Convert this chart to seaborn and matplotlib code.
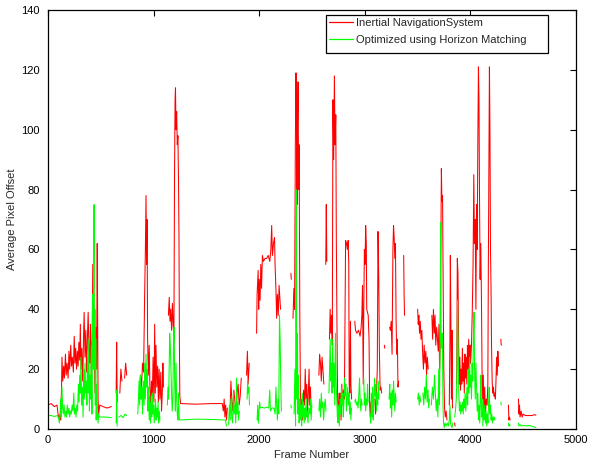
import numpy as np
import pandas as pd
import matplotlib
matplotlib.use('Agg')
import matplotlib.pyplot as plt
import seaborn as sns
from matplotlib.patches import Rectangle

# (frame, offset); None marks a gap in the trace
ins_points = [
    (0, 8), (30, 8.5), (60, 7.5), (85, 8), (95, 5), (105, 3.5), (115, 5), (120, 3), (128, 14), (132, 24),
    (140, 16), (148, 21), (155, 17), (165, 25), (172, 18), (180, 22), (190, 17), (198, 26), (205, 20),
    (215, 28), (222, 21), (230, 24), (240, 19), (248, 31), (255, 22), (262, 27), (270, 20), (278, 26),
    (285, 21), (292, 29), (300, 23), (306, 35), (312, 20), (320, 27), (328, 16), (336, 30), (342, 39),
    (350, 24), (358, 33), (365, 19), (372, 29), (380, 39), (388, 26), (395, 22), (402, 35), (410, 17),
    (418, 30), (424, 55), (430, 22), (438, 28), (445, 12), (452, 34), (460, 20), (466, 62), (470, 35),
    (474, 10), (480, 5), (490, 8), (520, 7.5), (560, 7), (600, 7.5), (605, None),
    (645, 12), (650, 29), (655, 9), (660, None),
    (680, 12), (690, 20), (700, 16), (710, None), (725, 17), (735, 22), (745, 18), (752, None),
    (865, 12), (875, 18), (885, 14), (895, 22), (905, 19), (915, 45), (922, 60), (928, 78), (933, 55),
    (938, 70), (943, 30), (950, 18), (958, 28), (965, 14), (972, 8), (980, 16), (988, 11), (995, 24),
    (1003, 9), (1010, 35), (1016, 12), (1022, 28), (1030, 14), (1038, 21), (1045, 9), (1052, 20),
    (1060, 10), (1068, 19), (1075, 6), (1082, 12), (1088, 22), (1093, 14), (1100, None),
    (1140, 38), (1148, 44), (1155, 36), (1162, 40), (1170, 33), (1178, 42), (1185, 35), (1192, 30),
    (1198, 85), (1203, 110), (1207, 114), (1212, 100), (1218, 106), (1224, 95), (1230, 98), (1236, 82),
    (1240, 65), (1244, 30), (1248, 11), (1255, 8.5), (1400, 8.3), (1550, 8.5), (1650, 8.5),
    (1660, 6), (1668, 10), (1675, 4), (1682, 8), (1690, 3), (1698, 7), (1705, None),
    (1725, 8), (1732, 16), (1740, 10), (1750, 6), (1760, 13), (1770, 9), (1780, 5), (1790, 12),
    (1800, 15), (1810, 8), (1820, 11), (1830, 17), (1838, None),
    (1880, 18), (1888, 26), (1895, 15), (1905, 22), (1912, None),
    (1975, 32), (1980, 45), (1990, 53), (1995, 40), (2000, 50), (2008, 43), (2015, 55), (2022, 47),
    (2030, 58), (2040, 56), (2055, 57), (2070, 57), (2085, 58), (2100, 56), (2110, 60), (2118, 68),
    (2125, 58), (2135, 62), (2145, 64), (2150, 55), (2158, 47), (2165, 37), (2172, 45), (2180, 38),
    (2188, 48), (2195, 44), (2202, 40), (2210, None),
    (2300, 52), (2304, 50), (2306, None),
    (2320, 37), (2328, 47), (2335, 40), (2342, 95), (2348, 119), (2352, 108), (2358, 75), (2362, 100),
    (2368, 116), (2373, 80), (2378, 95), (2384, 40), (2390, 12), (2398, 5), (2405, 10), (2412, 3),
    (2420, 13), (2428, 8), (2436, 20), (2442, 10), (2450, 15), (2458, 6), (2465, 12), (2472, 20),
    (2478, 8), (2485, 14), (2492, 6), (2498, None),
    (2565, 18), (2572, 25), (2580, 22), (2588, 16), (2595, 24), (2603, 20), (2612, 15), (2618, None),
    (2630, 55), (2635, 75), (2640, 56), (2645, None),
    (2665, 30), (2672, 40), (2678, 32), (2685, 38), (2692, 28), (2698, 110), (2705, 90), (2712, 118),
    (2718, 95), (2725, 105), (2730, 64), (2735, 40), (2742, 10), (2750, 4), (2758, 12),
    (2760, 5), (2768, 12), (2775, 3), (2782, 15), (2790, 8), (2798, 13), (2806, 10), (2812, 35),
    (2818, 63), (2826, 62), (2835, 60), (2842, 63), (2848, 55), (2852, 15), (2858, 12), (2864, 36),
    (2868, 15), (2875, 10), (2882, None),
    (2905, 36), (2912, 33), (2925, 32), (2940, 33), (2955, 31), (2965, 34), (2972, 38), (2978, 48),
    (2985, 15), (2990, 40), (2996, 60), (3002, 55), (3008, 68), (3014, 62), (3018, 40), (3025, 39),
    (3032, 38), (3040, 30), (3046, 8), (3052, 4), (3058, 9), (3065, 5), (3072, 12), (3078, 6),
    (3085, None),
    (3095, 10), (3102, 5), (3110, 12), (3118, 20), (3125, 66), (3132, 50), (3138, 26), (3145, 13),
    (3152, 14), (3160, 12), (3165, None),
    (3185, 28), (3189, 27), (3192, None),
    (3235, 34), (3242, 33), (3250, 36), (3258, 25), (3266, 60), (3272, 68), (3278, 64), (3284, 57),
    (3290, 62), (3296, 37), (3302, 25), (3308, 30), (3314, 14), (3320, 16), (3326, None),
    (3368, 58), (3372, 45), (3376, 38), (3380, None),
    (3500, 40), (3506, 35), (3512, 38), (3518, 32), (3525, 36), (3532, 30), (3540, 33), (3548, 25),
    (3555, 20), (3562, 28), (3570, 22), (3578, 26), (3585, 18), (3592, 24), (3600, 20), (3606, None),
    (3635, 38), (3642, 30), (3650, 40), (3658, 32), (3665, 38), (3672, 28), (3680, 34), (3688, 30),
    (3695, 26), (3702, 35), (3708, 20), (3714, 28), (3720, 60), (3725, 87), (3730, 76), (3736, 78),
    (3742, 48), (3748, 20), (3755, 7), (3762, 4), (3770, 6), (3778, 3), (3785, None),
    (3800, 8), (3806, 30), (3810, 58), (3815, 35), (3820, 10), (3826, 33), (3830, 7), (3836, None),
    (3850, 2), (3855, 1), (3860, None),
    (3870, 15), (3876, 57), (3882, 52), (3888, 30), (3894, 15), (3900, 24), (3906, 13), (3912, 20),
    (3918, 15), (3924, 27), (3930, 16), (3936, 22), (3942, 12), (3948, 25), (3954, 17), (3960, 24),
    (3966, 15), (3972, 28), (3978, 20), (3984, 30), (3990, 18), (3996, 28), (4002, 22), (4010, 28),
    (4018, 40), (4025, 55), (4032, 85), (4038, 62), (4045, 70), (4052, 40), (4058, 75), (4064, 60),
    (4070, 95), (4076, 121), (4081, 110), (4086, 78), (4092, 50), (4098, 62), (4104, 45), (4110, 20),
    (4116, 10), (4122, 18), (4128, 6), (4135, 14), (4142, 5), (4150, 10), (4158, 8), (4165, 15),
    (4170, 55), (4175, 88), (4180, 121), (4185, 100), (4190, 60), (4195, 48), (4200, 28), (4206, 16),
    (4212, 12), (4218, 14), (4224, 11), (4230, 12), (4236, 10), (4242, 16), (4248, 24), (4254, 18),
    (4260, 26), (4266, 21), (4272, None),
    (4288, 30), (4292, 28), (4296, None),
    (4360, 8), (4364, 3), (4370, 4), (4376, 3), (4380, None),
    (4455, 10), (4460, 5), (4465, 8), (4470, 4), (4480, 6), (4490, 4), (4500, 5), (4520, 4.5),
    (4550, 4.5), (4580, 4.5), (4610, 4.8), (4620, 4.6),
]

hm_points = [
    (0, 4.5), (30, 4.5), (60, 4.2), (90, 4.5), (100, 3.5), (108, 2), (115, 6), (120, 10), (126, 4),
    (132, 14), (138, 7), (145, 5), (152, 8), (160, 4), (168, 6), (175, 4), (182, 8), (190, 5), (198, 7),
    (205, 4), (212, 6), (220, 5), (228, 8), (236, 6), (244, 12), (250, 5), (258, 7), (265, 4), (272, 8),
    (280, 6), (288, 15), (294, 9), (300, 18), (306, 12), (312, 24), (318, 8), (325, 14), (332, 4),
    (338, 20), (344, 10), (350, 22), (356, 12), (362, 16), (368, 8), (374, 24), (380, 12), (386, 30),
    (392, 6), (398, 18), (404, 10), (410, 28), (416, 5), (422, 45), (428, 20), (432, 55), (436, 75),
    (440, 20), (444, 40), (448, 8), (452, 30), (456, 3), (462, 15), (468, 5), (474, 2), (480, 5),
    (490, 4), (550, 4), (600, 3.8), (605, None),
    (645, 2), (650, 13), (655, 1), (660, None),
    (670, 4), (690, 4.5), (710, 3.8), (730, 5), (745, 4.5), (750, None),
    (850, 5), (856, 10), (862, 16), (868, 8), (875, 18), (882, 10), (888, 14), (895, 5), (902, 16),
    (910, 8), (916, 22), (922, 10), (928, 25), (934, 14), (940, 20), (946, 6), (952, 14), (958, 3),
    (964, 11), (970, 2), (976, 9), (982, 4), (988, 12), (994, 5), (1000, 8), (1006, 2), (1012, 6),
    (1018, 10), (1024, 3), (1030, 7), (1036, 4), (1042, 9), (1048, 2), (1054, 6), (1060, 3),
    (1066, None),
    (1130, 8), (1136, 14), (1142, 10), (1148, 22), (1152, 32), (1158, 28), (1164, 20), (1170, 12),
    (1176, 6), (1182, 10), (1188, 28), (1194, 34), (1200, 14), (1206, 6), (1212, 22), (1218, 10),
    (1224, 5), (1230, 3), (1236, 12), (1242, 4), (1248, 3), (1400, 3.3), (1550, 3.2), (1680, 3),
    (1690, 1), (1700, None),
    (1710, 1.5), (1718, 8), (1725, 3), (1732, 10), (1740, 4), (1748, 2), (1755, 12), (1762, 5),
    (1770, 8), (1778, 2), (1785, 17), (1790, 5), (1798, 9), (1805, 3), (1812, 6), (1818, None),
    (1885, 10), (1890, 16), (1895, 12), (1902, 14), (1908, 8), (1912, None),
    (1980, 3), (1986, 8), (1992, 2), (1998, 6), (2004, 9), (2010, 7), (2030, 7.2), (2050, 7),
    (2070, 7.3), (2090, 7), (2100, 13), (2106, 6), (2120, 7), (2140, 7), (2150, 5), (2158, 14),
    (2165, 8), (2172, 3), (2178, 10), (2185, 5), (2192, 38), (2198, 30), (2204, 15), (2210, 6),
    (2215, None),
    (2300, 8), (2304, 7), (2306, None),
    (2330, 5), (2338, 20), (2344, 1), (2348, 80), (2352, 40), (2356, 10), (2362, 32), (2366, 5),
    (2372, 18), (2378, 2), (2384, 10), (2390, 3), (2396, 8), (2402, 1), (2408, 12), (2414, 4),
    (2420, 9), (2426, 2), (2432, 7), (2438, 3), (2444, 10), (2450, 4), (2456, 6), (2462, 2),
    (2470, 7), (2480, 5), (2486, 10), (2492, 3), (2498, 8), (2502, None),
    (2565, 6), (2572, 10), (2580, 4), (2588, 12), (2595, 7), (2602, 9), (2610, 3), (2618, 8),
    (2625, 10), (2632, 6), (2640, None),
    (2660, 12), (2666, 20), (2672, 30), (2678, 16), (2684, 22), (2690, 12), (2696, 30), (2702, 14),
    (2708, 22), (2715, 8), (2722, 32), (2728, 16), (2734, 10), (2740, 4), (2746, 2), (2752, 8),
    (2758, 1), (2766, 10), (2772, 5), (2778, 14), (2784, 8), (2790, 12), (2796, 4), (2802, 9),
    (2808, 17), (2814, 11), (2820, 15), (2826, 6), (2832, 10), (2838, 14), (2844, 8), (2850, 12),
    (2856, 5), (2862, 9), (2868, 3), (2874, 7), (2880, None),
    (2905, 9), (2912, 10), (2920, 8), (2928, 9), (2936, 7), (2944, 12), (2950, 17), (2956, 9),
    (2962, 6), (2968, 10), (2975, 8), (2982, None),
    (2990, 17), (2996, 8), (3002, 12), (3008, 6), (3014, 10), (3020, 8), (3026, 15), (3032, 9),
    (3038, None),
    (3050, 5), (3056, 2), (3062, 12), (3068, 4), (3074, 14), (3080, 3), (3086, 9), (3092, 17),
    (3098, 11), (3104, 15), (3110, 6), (3116, 12), (3122, 8), (3128, 16), (3134, 10), (3140, None),
    (3230, 10), (3236, 15), (3242, 7), (3248, 12), (3254, 4), (3260, 13), (3266, 8), (3272, 16),
    (3278, 11), (3284, 6), (3290, 12), (3296, 9), (3302, None),
    (3500, 10), (3508, 12), (3515, 8), (3522, 11), (3530, 9), (3538, None),
    (3550, 12), (3558, 8), (3566, 14), (3574, 10), (3582, 18), (3590, 9), (3598, 13), (3605, 7),
    (3612, 10), (3618, None),
    (3630, 8), (3640, 14), (3650, 10), (3660, 18), (3668, 12), (3676, 6), (3684, 10), (3692, 4),
    (3700, 20), (3706, 8), (3712, 24), (3718, 69), (3722, 30), (3728, 27), (3734, 32), (3740, 8),
    (3746, 2), (3752, 0.5), (3760, 2), (3770, 1), (3780, 2), (3790, 1), (3800, 3), (3806, 8),
    (3812, 2), (3818, 1), (3826, 0.5), (3834, 2), (3840, None),
    (3850, 4), (3858, 6), (3866, 10), (3872, 18), (3878, 43), (3884, 25), (3890, 12), (3896, 6),
    (3902, 9), (3908, 5), (3914, 8), (3920, 6), (3926, 9), (3932, 5), (3938, 10), (3944, 7),
    (3950, 12), (3956, 6), (3962, 10), (3968, 14), (3974, 8), (3980, 20), (3986, 12), (3992, 24),
    (3998, 14), (4004, 18), (4010, 10), (4016, 22), (4022, 16), (4028, 30), (4034, 39), (4040, 18),
    (4046, 10), (4052, 22), (4058, 14), (4064, 6), (4070, 12), (4076, 3), (4082, 8), (4088, 2),
    (4094, 9), (4100, 18), (4106, 4), (4112, 10), (4118, 1), (4124, 7), (4130, 3), (4136, 8),
    (4142, 2), (4148, 6), (4154, 1), (4160, 5), (4166, 2), (4172, 9), (4178, 14), (4184, 5),
    (4190, 8), (4196, 3), (4202, 5), (4208, 2), (4214, 4), (4220, 3), (4226, 4), (4232, 3),
    (4238, None),
    (4288, 9), (4292, 8), (4296, None),
    (4360, 2), (4365, 1), (4370, 1.5), (4376, 1), (4380, None),
    (4455, 2), (4460, 1), (4470, 1.5), (4480, 1), (4500, 1.2), (4530, 1), (4560, 1.2), (4590, 0.8),
    (4620, 0.5),
]

series_names = ['Inertial NavigationSystem', 'Optimized using Horizon Matching']
series_colors = ['#ff0000', '#00ff00']
x_ticks = [0, 1000, 2000, 3000, 4000, 5000]
y_ticks = [0, 20, 40, 60, 80, 100, 120, 140]


def to_frame(points, name):
    df = pd.DataFrame(points, columns=['frame', 'offset'])
    df['offset'] = pd.to_numeric(df['offset'])
    # every gap marker starts a new piece of the trace
    df['piece'] = df['offset'].isna().cumsum()
    df = df.dropna(subset=['offset'])
    df['series'] = name
    return df


sns.set_theme(style='white')
plt.rcParams['font.family'] = ['Liberation Sans', 'DejaVu Sans']
plt.rcParams['font.size'] = 8

fig = plt.figure(figsize=(5.9, 4.62), dpi=100)
ax = fig.add_axes([0.0814, 0.0714, 0.8949, 0.9069])

for pts, name, col in zip([ins_points, hm_points], series_names, series_colors):
    d = to_frame(pts, name)
    sns.lineplot(data=d, x='frame', y='offset', units='piece', estimator=None,
                 color=col, linewidth=0.75, ax=ax, legend=False)

ax.set_xlim(0, 5000)
ax.set_ylim(0, 140)
ax.set_xticks(x_ticks)
ax.set_yticks(y_ticks)
ax.tick_params(direction='in', top=True, right=True, length=4, width=0.8,
               labelsize=8, colors='black', pad=4)
ax.tick_params(axis='y', pad=6)
for s in ax.spines.values():
    s.set_color('black')
    s.set_linewidth(0.9)
ax.set_xlabel('Frame Number', fontsize=8, labelpad=4)
ax.set_ylabel('Average Pixel Offset', fontsize=8, labelpad=3)

# legend box drawn separately, MATLAB style (wide right margin)
ax.add_patch(Rectangle((0.5265, 0.897), 0.4205, 0.091, transform=ax.transAxes,
                       facecolor='white', edgecolor='black', linewidth=0.9, zorder=5))
handles = [plt.Line2D([], [], color=c, linewidth=0.9) for c in series_colors]
leg = ax.legend(handles, series_names, loc='upper left', bbox_to_anchor=(0.5265, 0.988),
                frameon=False, fontsize=8, borderpad=0.3, handlelength=2.1,
                handletextpad=0.3, labelspacing=0.6, borderaxespad=0)
leg.set_zorder(6)

fig.savefig('out.png', dpi=100)
